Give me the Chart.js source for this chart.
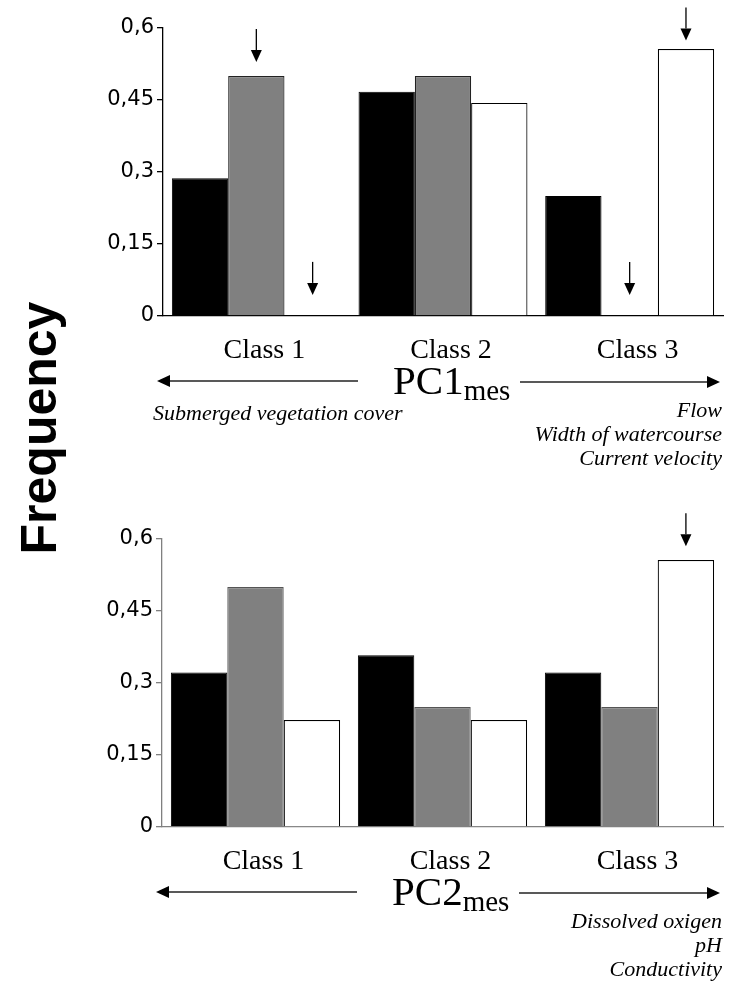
<!DOCTYPE html>
<html>
<head>
<meta charset="utf-8">
<script src="https://cdn.jsdelivr.net/npm/chart.js@4.4.0/dist/chart.umd.min.js"></script>
<style>
  body { margin: 0; background: #fff; }
  #wrap { position: relative; width: 735px; height: 998px; overflow: hidden; }
  canvas { position: absolute; left: 0; }
  #top-chart { top: 0; }
  #bottom-chart { top: 511px; }
  #ylabel {
    position: absolute; left: -111px; top: 399px; width: 300px;
    line-height: 50px; text-align: center;
    font: bold 50px "Liberation Sans", Arial, sans-serif;
    transform: rotate(-90deg);
  }
</style>
</head>
<body>
<div id="wrap">
  <canvas id="top-chart" width="735" height="487"></canvas>
  <canvas id="bottom-chart" width="735" height="487"></canvas>
  <div id="ylabel">Frequency</div>
</div>
<script>
// categorias y valores
const classes = ['Class 1', 'Class 2', 'Class 3'];
const yTickLabels = ['0', '0,15', '0,3', '0,45', '0,6'];

const pc1Black = [0.287, 0.467, 0.25];
const pc1Gray  = [0.5, 0.5, 0];
const pc1White = [0, 0.444, 0.556];

const pc2Black = [0.322, 0.358, 0.322];
const pc2Gray  = [0.5, 0.25, 0.25];
const pc2White = [0.223, 0.223, 0.556];

// flechas sobre las barras: [clase, serie, valor de la punta]
const pc1Arrows = [[0, 1, 0.529], [0, 2, 0.044], [2, 1, 0.044], [2, 2, 0.574]];
const pc2Arrows = [[2, 2, 0.585]];

const pc1Left  = ['Submerged vegetation cover'];
const pc1Right = ['Flow', 'Width of watercourse', 'Current velocity'];
const pc2Left  = [];
const pc2Right = ['Dissolved oxigen', 'pH', 'Conductivity'];

const serif = '"Liberation Serif", "Times New Roman", serif';

function drawArrow(ctx, x1, y1, x2, y2, head, half) {
    const ang = Math.atan2(y2 - y1, x2 - x1);
    const bx = x2 - head * Math.cos(ang);
    const by = y2 - head * Math.sin(ang);
    ctx.beginPath();
    ctx.moveTo(x1, y1);
    ctx.lineTo(bx, by);
    ctx.stroke();
    ctx.beginPath();
    ctx.moveTo(x2, y2);
    ctx.lineTo(bx + half * Math.sin(ang), by - half * Math.cos(ang));
    ctx.lineTo(bx - half * Math.sin(ang), by + half * Math.cos(ang));
    ctx.closePath();
    ctx.fill();
}

// dibuja flechas y textos del eje PC
const notesPlugin = {
    id: 'notes',
    afterDraw(chart, args, opts) {
        const ctx = chart.ctx;
        const area = chart.chartArea;
        const yScale = chart.scales.y;
        const B = area.bottom;
        ctx.save();
        ctx.strokeStyle = '#000';
        ctx.fillStyle = '#000';
        ctx.lineWidth = 1.3;

        opts.marks.forEach(([cat, ser, tip]) => {
            const bar = chart.getDatasetMeta(ser).data[cat];
            const ty = yScale.getPixelForValue(tip);
            drawArrow(ctx, bar.x, ty - 33, bar.x, ty, 12, 5.5);
        });

        ctx.strokeStyle = '#222';
        const ay = B + 65;
        drawArrow(ctx, area.left + 195, ay, area.left - 6, ay, 13, 6);
        drawArrow(ctx, area.left + 357, ay + 1, area.right - 3, ay + 1, 13, 6);

        ctx.textAlign = 'left';
        ctx.textBaseline = 'alphabetic';
        ctx.font = '41px ' + serif;
        const px = area.left + 230;
        ctx.fillText(opts.main, px, B + 78);
        const w = ctx.measureText(opts.main).width;
        ctx.font = '29px ' + serif;
        ctx.fillText(opts.sub, px + w, B + 84);

        ctx.font = 'italic 22px ' + serif;
        opts.left.forEach((t, i) => ctx.fillText(t, area.left - 10, B + 104 + i * 24));
        ctx.textAlign = 'right';
        opts.right.forEach((t, i) => ctx.fillText(t, area.right - 1, B + 101 + i * 24));
        ctx.restore();
    }
};

function crearGrafico(id, black, gray, white, axisColor, grayBorder, leftW, notes) {
    const ctx = document.getElementById(id).getContext('2d');
    return new Chart(ctx, {
        type: 'bar',
        data: {
            labels: classes,
            datasets: [
                { data: black, backgroundColor: '#000', borderColor: '#000', borderWidth: 1 },
                { data: gray, backgroundColor: '#808080', borderColor: grayBorder, borderWidth: 1.2 },
                { data: white, backgroundColor: '#fff', borderColor: '#000', borderWidth: 1.2 }
            ]
        },
        options: {
            responsive: false,
            animation: false,
            layout: { padding: { top: 28, right: 12, bottom: 0, left: 0 } },
            datasets: { bar: { categoryPercentage: 0.905, barPercentage: 1 } },
            scales: {
                x: {
                    grid: { display: false },
                    border: { display: true, color: axisColor, width: 1.3 },
                    ticks: {
                        color: '#000',
                        font: { family: serif, size: 28 },
                        padding: 10,
                        labelOffset: 8,
                        maxRotation: 0
                    },
                    afterFit: s => { s.height = 171; }
                },
                y: {
                    min: 0,
                    max: 0.6,
                    grid: { display: true, drawOnChartArea: false, drawTicks: true, tickLength: 6, color: axisColor, lineWidth: 1.3 },
                    border: { display: true, color: axisColor, width: 1.3 },
                    ticks: {
                        stepSize: 0.15,
                        color: '#000',
                        font: { family: '"DejaVu Sans", Verdana, sans-serif', size: 21 },
                        padding: 3,
                        callback: (v, i) => yTickLabels[i]
                    },
                    afterFit: s => { s.width = leftW; }
                }
            },
            plugins: {
                legend: { display: false },
                tooltip: { enabled: false },
                notes: notes
            }
        },
        plugins: [notesPlugin]
    });
}

crearGrafico('top-chart', pc1Black, pc1Gray, pc1White, '#000', '#222', 163,
    { marks: pc1Arrows, main: 'PC1', sub: 'mes', left: pc1Left, right: pc1Right });
crearGrafico('bottom-chart', pc2Black, pc2Gray, pc2White, '#808080', '#555', 162,
    { marks: pc2Arrows, main: 'PC2', sub: 'mes', left: pc2Left, right: pc2Right });
</script>
</body>
</html>
